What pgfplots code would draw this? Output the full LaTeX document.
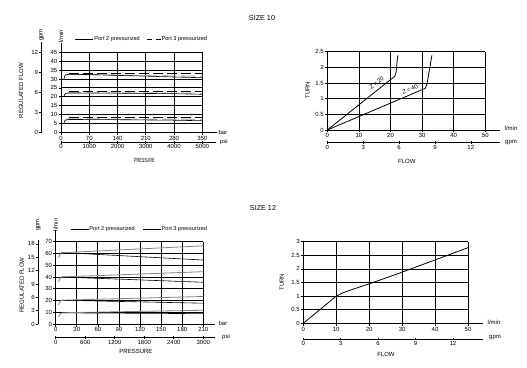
\documentclass[border=0pt]{standalone}
\usepackage{fontspec}
\setmainfont{Liberation Sans}
\usepackage{graphicx}
\usepackage{pgfplots}
\pgfplotsset{compat=1.18}
\newcommand{\fs}{\fontsize{6}{6.5}\selectfont}
\begin{document}
\begin{tikzpicture}
\useasboundingbox (0pt,0pt) rectangle (527pt,367pt);
\pgfplotsset{
  every axis/.append style={
    scale only axis, anchor=south west,
    font=\fs,
    /pgf/number format/assume math mode=true,
    /pgf/number format/1000 sep={},
    scaled ticks=false,
    tick label style={font=\fs, inner sep=1pt},
    major tick length=2.5pt,
    tick style={black, line width=0.6pt},
    axis line style={black, line width=0.9pt},
    clip=false,
  },
  mainax/.style 2 args={
    axis x line=bottom, axis y line=left,
    x axis line style={-, shorten >=-#1},
    y axis line style={-, shorten >=-#2},
    grid=major, grid style={black, line width=0.75pt},
    tick align=outside,
    legend image code/.code={\draw[##1] (0pt,0pt) -- (18pt,0pt);},
  },
  secx/.style={
    axis x line=bottom, axis y line=none,
    x axis line style={-, shorten >=-#1},
    tick align=center, height=5pt, ymin=0, ymax=1,
  },
  secy/.style={
    axis y line=left, axis x line=none,
    y axis line style={-, shorten >=-#1},
    tick align=outside, width=5pt, xmin=0, xmax=1,
  },
}
% titles
\node[font=\fontsize{7.2}{8}\selectfont] at (262pt,349pt) {SIZE 10};
\node[font=\fontsize{7.2}{8}\selectfont] at (263pt,159pt) {SIZE 12};

% ================= Panel 1 =================
\begin{axis}[mainax={14.4pt}{9pt}, at={(61pt,234.7pt)}, width=141.3pt, height=80pt,
  xmin=0, xmax=350, ymin=0, ymax=45, xtick={0,70,...,350}, ytick={0,5,...,45},
  ylabel={REGULATED FLOW}, ylabel style={at={(axis description cs:-0.283,0.52)}, anchor=center},
  legend style={draw=none, fill=none, at={(axis description cs:0.099,1.166)}, anchor=west,
    font=\fontsize{5.6}{6}\selectfont, inner sep=0pt, nodes={inner sep=0.6pt},
    /tikz/every even column/.append style={column sep=6pt}},
  legend columns=2]
\addplot[gray!55, line width=1.1pt, dash pattern=on 14pt off 5pt, forget plot] coordinates {(15,32.6)(350,31.5)};
\addplot[gray!55, line width=1.1pt, dash pattern=on 14pt off 5pt, forget plot] coordinates {(15,22.3)(350,22.0)};
\addplot[gray!55, line width=1.1pt, dash pattern=on 14pt off 5pt, forget plot] coordinates {(15,7.5)(350,7.3)};
\addplot[black, line width=0.6pt] coordinates {(7,29.8)(9,31.5)(12,32.4)(20,32.6)(70,32.5)(140,32.0)(210,31.6)(280,31.1)(350,30.7)};
\addlegendentry{Port 2 pressurized}
\addplot[black, line width=0.8pt, dash pattern=on 10pt off 4pt,
  legend image code/.code={\draw[black,line width=0.6pt,dash pattern=on 5pt off 4pt] (0pt,0pt)--(14pt,0pt);}]
  coordinates {(20,33.0)(350,33.0)};
\addlegendentry{Port 3 pressurized}
\addplot[black, line width=0.6pt, forget plot] coordinates {(7,19.8)(9,21.3)(12,21.9)(20,22.1)(140,22.0)(280,21.7)(350,21.4)};
\addplot[black, line width=0.6pt, forget plot] coordinates {(7,4.8)(9,6.4)(12,7.0)(20,7.2)(140,7.1)(280,6.8)(350,6.5)};
\addplot[black, line width=0.8pt, dash pattern=on 10pt off 4pt, forget plot] coordinates {(20,23.1)(350,23.1)};
\addplot[black, line width=0.8pt, dash pattern=on 10pt off 4pt, forget plot] coordinates {(20,8.3)(350,8.3)};
\node[rotate=90, font=\fs] at (axis description cs:0,1.2) {l/min};
\node[font=\fs] at (axis description cs:1.146,0.005) {bar};
\end{axis}
\begin{axis}[secx={14pt}, at={(61pt,224.7pt)}, width=141.3pt, xmin=0, xmax=5000, xtick={0,1000,...,5000},
  xlabel={\scalebox{0.62}[1]{PRESSURE}}, xlabel style={at={(axis description cs:0.59,0)}, anchor=center, yshift=-17.7pt}]
\node[font=\fs] at (axis description cs:1.153,0) {psi};
\end{axis}
\begin{axis}[secy={10pt}, at={(41.7pt,234.7pt)}, height=80pt, ymin=0, ymax=12, ytick={0,3,...,12}]
\node[rotate=90, font=\fs] at (axis description cs:0,1.216) {gpm};
\end{axis}

% ================= Panel 2 =================
\begin{axis}[mainax={15pt}{0pt}, at={(327.3pt,237pt)}, width=158pt, height=78.3pt,
  xmin=0, xmax=50, ymin=0, ymax=2.5, xtick={0,10,...,50}, ytick={0,0.5,...,2.5},
  ylabel={TURN}, ylabel style={at={(axis description cs:-0.125,0.51)}, anchor=center}]
\addplot[black, line width=0.8pt] coordinates {(0,0)(21.4,1.72)(21.8,1.86)(22.0,2.1)(22.3,2.38)};
\addplot[black, line width=0.8pt] coordinates {(0,0)(31.0,1.33)(31.5,1.45)(32.2,1.85)(33.1,2.38)};
\node[rotate=38.6, font=\fs, inner sep=0pt] at (axis cs:15.6,1.50) {Z\kern1.2pt=\kern1.2pt20};
\node[rotate=23.3, font=\fs, inner sep=0pt] at (axis cs:26.2,1.29) {Z\kern1.2pt=\kern1.2pt40};
\node[font=\fs] at (axis description cs:1.163,0.025) {l/min};
\end{axis}
\begin{axis}[secx={15pt}, at={(327.3pt,224.3pt)}, width=158pt, xmin=0, xmax=13.21, xtick={0,3,...,12},
  xlabel={FLOW}, xlabel style={at={(axis description cs:0.503,0)}, anchor=center, yshift=-18.3pt}]
\node[font=\fs] at (axis description cs:1.163,0) {gpm};
\end{axis}

% ================= Panel 3 =================
\begin{axis}[mainax={11.7pt}{12pt}, at={(55.7pt,43pt)}, width=147.6pt, height=82.3pt,
  xmin=0, xmax=210, ymin=0, ymax=70, xtick={0,30,...,210}, ytick={0,10,...,70},
  ylabel={REGULATED FLOW}, ylabel style={at={(axis description cs:-0.23,0.474)}, anchor=center},
  legend style={draw=none, fill=none, at={(axis description cs:0.097,1.154)}, anchor=west,
    font=\fontsize{5.6}{6}\selectfont, inner sep=0pt, nodes={inner sep=0.6pt},
    /tikz/every even column/.append style={column sep=7pt}},
  legend columns=2]
\addplot[black, line width=0.6pt] coordinates {(8,60.8)(210,54.4)};
\addlegendentry{Port 2 pressurized}
\addplot[black!50, line width=0.8pt, legend image code/.code={\draw[black,line width=0.6pt] (0pt,0pt)--(18pt,0pt);}]
  coordinates {(4,56.5)(6,59.0)(8,60.3)(12,60.7)(210,66.5)};
\addlegendentry{Port 3 pressurized}
\addplot[black, line width=0.6pt, forget plot] coordinates {(8,40.0)(210,35.5)};
\addplot[black!50, line width=0.8pt, forget plot] coordinates {(4,36.0)(6,38.5)(8,39.8)(12,40.1)(210,44.5)};
\addplot[black, line width=0.6pt, forget plot] coordinates {(8,20.2)(210,17.7)};
\addplot[black!50, line width=0.8pt, forget plot] coordinates {(4,16.3)(6,18.8)(8,20.0)(12,20.3)(210,23.4)};
\addplot[black, line width=0.6pt, forget plot] coordinates {(8,9.5)(210,8.8)};
\addplot[black!50, line width=0.8pt, forget plot] coordinates {(4,6.0)(6,8.3)(8,9.3)(12,9.6)(210,11.7)};
\node[rotate=90, font=\fs] at (axis description cs:0,1.203) {l/min};
\node[font=\fs] at (axis description cs:1.133,0.008) {bar};
\end{axis}
\begin{axis}[secx={11.7pt}, at={(55.7pt,29.3pt)}, width=147.6pt, xmin=0, xmax=3000, xtick={0,600,...,3000},
  xlabel={PRESSURE}, xlabel style={at={(axis description cs:0.544,0)}, anchor=center, yshift=-14pt}]
\node[font=\fs] at (axis description cs:1.154,0.2) {psi};
\end{axis}
\begin{axis}[secy={2pt}, at={(38.3pt,43pt)}, height=82.3pt, ymin=0, ymax=18.49, ytick={0,3,...,18}]
\node[rotate=90, font=\fs] at (axis description cs:0,1.203) {gpm};
\end{axis}

% ================= Panel 4 =================
\begin{axis}[mainax={15.3pt}{0pt}, at={(303.3pt,43.7pt)}, width=164.7pt, height=81.6pt,
  xmin=0, xmax=50, ymin=0, ymax=3, xtick={0,10,...,50}, ytick={0,0.5,...,3},
  ylabel={TURN}, ylabel style={at={(axis description cs:-0.131,0.506)}, anchor=center}]
\addplot[black, line width=0.8pt] coordinates {(0,0)(5,0.5)(10,1.0)(12,1.12)(15,1.25)(20,1.45)(30,1.88)(40,2.33)(50,2.78)};
\node[font=\fs] at (axis description cs:1.158,0.008) {l/min};
\end{axis}
\begin{axis}[secx={15.3pt}, at={(303.3pt,28pt)}, width=164.7pt, xmin=0, xmax=13.21, xtick={0,3,...,12},
  xlabel={FLOW}, xlabel style={at={(axis description cs:0.502,0)}, anchor=center, yshift=-15.3pt}]
\node[font=\fs] at (axis description cs:1.164,0.2) {gpm};
\end{axis}
\end{tikzpicture}
\end{document}
